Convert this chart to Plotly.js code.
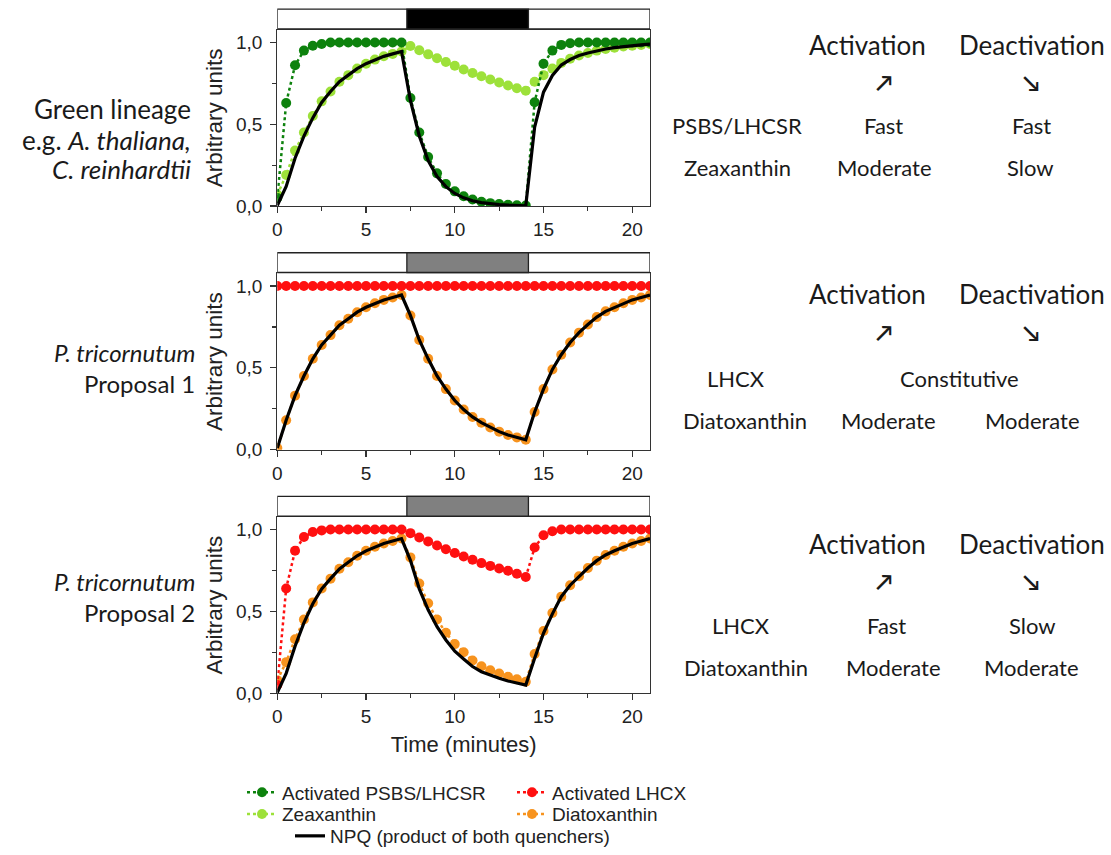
<!DOCTYPE html>
<html><head><meta charset="utf-8">
<script src="https://cdn.plot.ly/plotly-3.0.1.min.js"></script>
<style>html,body{margin:0;padding:0;background:#fff;}#chart{width:1111px;height:855px;}</style>
</head><body><div id="chart"></div>
<script>
// ---------- data ----------
const time = [0,0.5,1,1.5,2,2.5,3,3.5,4,4.5,5,5.5,6,6.5,7,7.5,8,8.5,9,9.5,10,10.5,11,11.5,12,12.5,13,13.5,14,14.5,15,15.5,16,16.5,17,17.5,18,18.5,19,19.5,20,20.5,21];
const psbsActivated = [0.05,0.63,0.86,0.95,0.98,0.99,1,1,1,1,1,1,1,1,1,0.66,0.45,0.30,0.20,0.135,0.09,0.06,0.04,0.027,0.018,0.012,0.008,0.005,0.003,0.635,0.87,0.95,0.985,0.995,1,1,1,1,1,1,1,1,1];
const zeaxanthin = [0.07,0.19,0.34,0.45,0.55,0.64,0.70,0.76,0.80,0.84,0.87,0.895,0.915,0.93,0.945,0.978,0.952,0.927,0.903,0.88,0.857,0.835,0.813,0.793,0.773,0.755,0.737,0.72,0.705,0.76,0.80,0.84,0.875,0.90,0.92,0.935,0.95,0.96,0.968,0.975,0.98,0.985,0.99];
const lhcxConstitutive = [1,1,1,1,1,1,1,1,1,1,1,1,1,1,1,1,1,1,1,1,1,1,1,1,1,1,1,1,1,1,1,1,1,1,1,1,1,1,1,1,1,1,1];
const diatoxanthinP1 = [0.01,0.18,0.33,0.45,0.555,0.64,0.70,0.76,0.80,0.84,0.87,0.895,0.915,0.93,0.945,0.82,0.67,0.555,0.45,0.37,0.30,0.245,0.20,0.165,0.135,0.11,0.09,0.075,0.06,0.23,0.37,0.49,0.58,0.655,0.715,0.765,0.81,0.845,0.87,0.895,0.915,0.93,0.945];
const lhcxActivated = [0.05,0.64,0.87,0.955,0.985,0.995,1,1,1,1,1,1,1,1,1,0.978,0.952,0.927,0.903,0.88,0.857,0.835,0.815,0.795,0.778,0.762,0.748,0.73,0.71,0.89,0.965,0.99,1,1,1,1,1,1,1,1,1,1,1];
const diatoxanthinP2 = [0.08,0.19,0.33,0.45,0.555,0.64,0.70,0.76,0.80,0.84,0.87,0.895,0.915,0.93,0.945,0.83,0.67,0.55,0.45,0.37,0.30,0.25,0.20,0.165,0.14,0.12,0.10,0.085,0.07,0.24,0.38,0.49,0.59,0.66,0.715,0.765,0.81,0.845,0.87,0.895,0.915,0.93,0.945];
const darkPeriod = [7.3, 14.15];
const xTickVals = [0,5,10,15,20];
const yTickVals = [0,0.5,1];
const yTickText = ['0,0','0,5','1,0'];
const seriesNames = ['Activated PSBS/LHCSR','Zeaxanthin','Activated LHCX','Diatoxanthin','NPQ (product of both quenchers)'];

const product = (a,b) => a.map((v,i)=>v*b[i]);
const npq1 = product(psbsActivated, zeaxanthin);
const npq2 = product(lhcxConstitutive, diatoxanthinP1);
const npq3 = product(lhcxActivated, diatoxanthinP2);

// ---------- style ----------
const W = 1111, H = 855;
const PX = x => x / W, PY = y => 1 - y / H;
const C = {dark:'#0d820d', light:'#9de13a', red:'#ff1010', orange:'#f7931e', black:'#000'};
const AX = 'Liberation Sans, Arial, sans-serif';
const CAL = 'Lato, Carlito, sans-serif';

function dotted(x, y, color, xa, ya, name, legend, show){
  return {x, y, xaxis:xa, yaxis:ya, type:'scatter', mode:'lines+markers', name,
    legend, showlegend:show,
    line:{color, width:2.5, dash:'dot'}, marker:{color, size:10}};
}
function solid(x, y, xa, ya, show){
  return {x, y, xaxis:xa, yaxis:ya, type:'scatter', mode:'lines', name:seriesNames[4],
    legend:'legend5', showlegend:show, line:{color:C.black, width:3.2}};
}

const traces = [
  dotted(time, zeaxanthin, C.light, 'x', 'y', seriesNames[1], 'legend3', true),
  dotted(time, psbsActivated, C.dark, 'x', 'y', seriesNames[0], 'legend', true),
  solid(time, npq1, 'x', 'y', true),
  dotted(time, diatoxanthinP1, C.orange, 'x2', 'y2', seriesNames[3], 'legend4', false),
  dotted(time, lhcxConstitutive, C.red, 'x2', 'y2', seriesNames[2], 'legend2', false),
  solid(time, npq2, 'x2', 'y2', false),
  dotted(time, diatoxanthinP2, C.orange, 'x3', 'y3', seriesNames[3], 'legend4', true),
  dotted(time, lhcxActivated, C.red, 'x3', 'y3', seriesNames[2], 'legend2', true),
  solid(time, npq3, 'x3', 'y3', false)
];

const xDom = [PX(277.3), PX(650)];
const panels = [[30,207.3],[275,452.3],[520,697.3]];
function xaxis(anchor, withTitle){
  const a = {domain:xDom, anchor, range:[0,21], tickvals:xTickVals, ticks:'outside', ticklen:6, tickwidth:1.2,
    tickcolor:'#333', showline:true, linecolor:'#333', linewidth:1.2, mirror:true, showgrid:false, zeroline:false,
    tickfont:{family:AX, size:19, color:'#222'}, minor:{dtick:2.5, tick0:0, ticks:'outside', ticklen:4, tickcolor:'#333', showgrid:false}};
  if (withTitle) a.title = {text:'Time (minutes)', font:{family:AX, size:22, color:'#222'}, standoff:10};
  return a;
}
function yaxis(anchor, p){
  return {domain:[PY(p[1]), PY(p[0])], anchor, range:[0,1.077], tickvals:yTickVals, ticktext:yTickText,
    ticks:'outside', ticklen:6, tickwidth:1.2, tickcolor:'#333', showline:true, linecolor:'#333', linewidth:1.2,
    mirror:true, showgrid:false, zeroline:false, ticklabelstandoff:4,
    tickfont:{family:AX, size:19, color:'#222'},
    minor:{dtick:0.25, tick0:0, ticks:'outside', ticklen:4, tickcolor:'#333', showgrid:false},
    title:{text:'Arbitrary units', font:{family:AX, size:22.5, color:'#222'}, standoff:7}};
}

// light/dark bars
const shapes = [];
[['y domain','#000'],['y2 domain','#808080'],['y3 domain','#808080']].forEach(([yr,fill],i)=>{
  const xr = ['x','x2','x3'][i];
  shapes.push({type:'rect', xref:xr, yref:yr, x0:0, x1:21, y0:1.005, y1:1.117, fillcolor:'#fff', line:{color:'#222', width:1.3}});
  shapes.push({type:'rect', xref:xr, yref:yr, x0:darkPeriod[0], x1:darkPeriod[1], y0:1.005, y1:1.117, fillcolor:fill, line:{color:'#222', width:1.3}});
});

const ann = [];
function txt(text, x, y, size, xanchor){
  ann.push({text, x:PX(x), y:PY(y), xref:'paper', yref:'paper', xanchor:xanchor||'center', yanchor:'middle',
    showarrow:false, font:{family:CAL, size, color:'#1a1a1a'}});
}
// left labels
txt('Green lineage', 193, 110, 26, 'right');
txt('e.g. <i>A. thaliana,</i>', 193, 141, 26, 'right');
txt('<i>C. reinhardtii</i>', 193, 170, 26, 'right');
txt('<i>P. tricornutum</i>', 197, 355, 24, 'right');
txt('Proposal 1', 197, 386, 24, 'right');
txt('<i>P. tricornutum</i>', 197, 585, 24, 'right');
txt('Proposal 2', 197, 616, 24, 'right');
// right tables
const heads = [45, 296, 547];
heads.forEach(y=>{
  txt('Activation', 867, y, 26);
  txt('Deactivation', 1032, y, 26);
  txt('<b>\u2197</b>', 884, y+38, 22);
  txt('<b>\u2198</b>', 1031, y+38, 22);
});
txt('PSBS/LHCSR', 737, 126, 22); txt('Fast', 883, 126, 22); txt('Fast', 1031, 126, 22);
txt('Zeaxanthin', 737, 168, 22); txt('Moderate', 884, 168, 22); txt('Slow', 1030, 168, 22);
txt('LHCX', 736, 381, 22); txt('Constitutive', 959, 381, 22);
txt('Diatoxanthin', 745, 423, 22); txt('Moderate', 888, 423, 22); txt('Moderate', 1032, 423, 22);
txt('LHCX', 741, 629, 22); txt('Fast', 886, 629, 22); txt('Slow', 1032, 629, 22);
txt('Diatoxanthin', 746, 671, 22); txt('Moderate', 893, 671, 22); txt('Moderate', 1031, 671, 22);

function leg(x, y){
  return {x:PX(x), y:PY(y), xanchor:'left', yanchor:'middle', bgcolor:'rgba(0,0,0,0)', borderwidth:0,
    font:{family:AX, size:19, color:'#222'}, orientation:'h', itemclick:false};
}

const layout = {
  width:W, height:H, margin:{l:0,r:0,t:0,b:0}, paper_bgcolor:'#fff', plot_bgcolor:'#fff',
  xaxis:xaxis('y', false), xaxis2:xaxis('y2', false), xaxis3:xaxis('y3', true),
  yaxis:yaxis('x', panels[0]), yaxis2:yaxis('x2', panels[1]), yaxis3:yaxis('x3', panels[2]),
  shapes, annotations:ann,
  legend:leg(242, 797), legend2:leg(512, 797), legend3:leg(242, 819), legend4:leg(512, 819), legend5:leg(290, 841)
};
Plotly.newPlot('chart', traces, layout, {displayModeBar:false, staticPlot:true});
</script></body></html>
